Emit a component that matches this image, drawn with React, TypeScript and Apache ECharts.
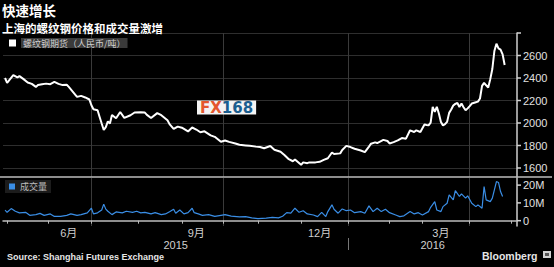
import React, { useEffect, useRef } from 'react';
import * as echarts from 'echarts';

const startDay = '2015-04-29';
const endDay = '2016-05-06';
const holidays = [
  '2015-05-01', '2015-06-22', '2015-09-03', '2015-09-04',
  '2015-10-01', '2015-10-02', '2015-10-05', '2015-10-06', '2015-10-07',
  '2016-01-01', '2016-02-08', '2016-02-09', '2016-02-10', '2016-02-11', '2016-02-12',
  '2016-04-04', '2016-05-02',
];

const priceDates = [
  '2015-04-30', '2015-05-04', '2015-05-07', '2015-05-11', '2015-05-12', '2015-05-14', '2015-05-18', '2015-05-20',
  '2015-05-22', '2015-05-25', '2015-05-27', '2015-05-29', '2015-06-02', '2015-06-04', '2015-06-08', '2015-06-10',
  '2015-06-12', '2015-06-15', '2015-06-17', '2015-06-19', '2015-06-24', '2015-06-26', '2015-06-30', '2015-07-01',
  '2015-07-02', '2015-07-06', '2015-07-07', '2015-07-08', '2015-07-09', '2015-07-10', '2015-07-13', '2015-07-14',
  '2015-07-15', '2015-07-17', '2015-07-21', '2015-07-23', '2015-07-28', '2015-07-30', '2015-08-04', '2015-08-06',
  '2015-08-07', '2015-08-11', '2015-08-14', '2015-08-18', '2015-08-21', '2015-08-24', '2015-08-26', '2015-08-28',
  '2015-09-01', '2015-09-08', '2015-09-10', '2015-09-14', '2015-09-16', '2015-09-18', '2015-09-23', '2015-09-25',
  '2015-09-30', '2015-10-09', '2015-10-13', '2015-10-16', '2015-10-20', '2015-10-23', '2015-10-27', '2015-10-30',
  '2015-11-03', '2015-11-05', '2015-11-10', '2015-11-12', '2015-11-17', '2015-11-19', '2015-11-23', '2015-11-25',
  '2015-11-26', '2015-12-01', '2015-12-02', '2015-12-04', '2015-12-07', '2015-12-10', '2015-12-14', '2015-12-16',
  '2015-12-18', '2015-12-22', '2015-12-23', '2015-12-28', '2015-12-29', '2015-12-31', '2016-01-05', '2016-01-07',
  '2016-01-12', '2016-01-14', '2016-01-18', '2016-01-19', '2016-01-21', '2016-01-22', '2016-01-27', '2016-01-29',
  '2016-02-01', '2016-02-03', '2016-02-05', '2016-02-16', '2016-02-18', '2016-02-22', '2016-02-24', '2016-02-25',
  '2016-02-29', '2016-03-02', '2016-03-03', '2016-03-04', '2016-03-07', '2016-03-08', '2016-03-09', '2016-03-10',
  '2016-03-11', '2016-03-14', '2016-03-15', '2016-03-16', '2016-03-17', '2016-03-18', '2016-03-21', '2016-03-22',
  '2016-03-23', '2016-03-24', '2016-03-25', '2016-03-28', '2016-03-29', '2016-03-30', '2016-03-31', '2016-04-01',
  '2016-04-05', '2016-04-07', '2016-04-08', '2016-04-11', '2016-04-12', '2016-04-13', '2016-04-14', '2016-04-15',
  '2016-04-18', '2016-04-19', '2016-04-20', '2016-04-21', '2016-04-22', '2016-04-25', '2016-04-26', '2016-04-27',
];
const priceValues = [
  2400, 2357, 2426, 2405, 2417, 2390, 2360, 2348,
  2321, 2337, 2344, 2350, 2345, 2366, 2348, 2337,
  2340, 2321, 2277, 2232, 2241, 2227, 2209, 2158,
  2122, 2113, 2054, 1995, 1938, 1964, 2015, 1995,
  2072, 2042, 2098, 2045, 2069, 2093, 2095, 2093,
  2072, 2045, 2088, 2069, 2024, 1990, 1947, 1968,
  1958, 1925, 1960, 1942, 1918, 1926, 1890, 1877,
  1833, 1845, 1832, 1818, 1806, 1801, 1797, 1790,
  1786, 1775, 1795, 1762, 1745, 1714, 1678, 1660,
  1675, 1628, 1650, 1643, 1650, 1650, 1655, 1672,
  1687, 1738, 1724, 1730, 1760, 1797, 1786, 1771,
  1756, 1741, 1790, 1816, 1828, 1822, 1850, 1840,
  1818, 1830, 1845, 1866, 1861, 1935, 1920, 1935,
  1920, 1986, 1982, 1979, 2003, 2143, 2098, 2143,
  2084, 2009, 1979, 1990, 2010, 2090, 2120, 2155,
  2170, 2178, 2143, 2173, 2140, 2113, 2130, 2150,
  2173, 2185, 2190, 2218, 2330, 2357, 2335, 2316,
  2390, 2480, 2640, 2705, 2664, 2652, 2610, 2515,
];

// trading volume, millions of lots
const volumeDates = [
  '2015-04-30', '2015-05-04', '2015-05-06', '2015-05-08', '2015-05-12', '2015-05-15', '2015-05-19', '2015-05-22',
  '2015-05-26', '2015-05-28', '2015-06-02', '2015-06-04', '2015-06-09', '2015-06-12', '2015-06-16', '2015-06-19',
  '2015-06-24', '2015-06-29', '2015-07-01', '2015-07-02', '2015-07-06', '2015-07-08', '2015-07-09', '2015-07-10',
  '2015-07-13', '2015-07-15', '2015-07-17', '2015-07-22', '2015-07-24', '2015-07-29', '2015-07-31', '2015-08-04',
  '2015-08-06', '2015-08-11', '2015-08-13', '2015-08-18', '2015-08-20', '2015-08-24', '2015-08-26', '2015-08-27',
  '2015-08-31', '2015-09-02', '2015-09-08', '2015-09-10', '2015-09-11', '2015-09-15', '2015-09-17', '2015-09-22',
  '2015-09-25', '2015-09-30', '2015-10-09', '2015-10-14', '2015-10-20', '2015-10-23', '2015-10-28', '2015-11-02',
  '2015-11-06', '2015-11-11', '2015-11-16', '2015-11-18', '2015-11-20', '2015-11-24', '2015-11-26', '2015-11-30',
  '2015-12-02', '2015-12-04', '2015-12-09', '2015-12-11', '2015-12-15', '2015-12-17', '2015-12-18', '2015-12-22',
  '2015-12-23', '2015-12-25', '2015-12-29', '2015-12-31', '2016-01-05', '2016-01-07', '2016-01-12', '2016-01-14',
  '2016-01-18', '2016-01-20', '2016-01-22', '2016-01-26', '2016-01-28', '2016-02-01', '2016-02-04', '2016-02-15',
  '2016-02-17', '2016-02-22', '2016-02-24', '2016-02-26', '2016-03-01', '2016-03-04', '2016-03-07', '2016-03-09',
  '2016-03-10', '2016-03-14', '2016-03-15', '2016-03-17', '2016-03-18', '2016-03-22', '2016-03-23', '2016-03-25',
  '2016-03-28', '2016-03-30', '2016-03-31', '2016-04-05', '2016-04-07', '2016-04-08', '2016-04-12', '2016-04-13',
  '2016-04-14', '2016-04-18', '2016-04-19', '2016-04-21', '2016-04-22', '2016-04-25', '2016-04-26',
];
const volumeValues = [
  5.9, 4.7, 6.8, 5.3, 4.4, 4.7, 3.0, 3.4,
  4.1, 3.0, 3.8, 2.4, 2.4, 3.0, 3.8, 3.0,
  3.4, 4.4, 7.0, 3.8, 4.4, 6.0, 9.3, 6.5,
  5.3, 3.4, 4.9, 4.4, 5.3, 4.7, 5.3, 4.4,
  4.7, 3.8, 4.5, 3.4, 3.8, 5.0, 6.4, 4.2,
  6.0, 3.8, 4.5, 7.0, 4.5, 3.8, 3.0, 3.4,
  2.4, 3.0, 3.4, 2.6, 2.1, 2.3, 1.6, 1.2,
  1.4, 1.9, 1.6, 2.5, 4.5, 4.2, 7.0, 4.7,
  5.6, 3.8, 3.2, 2.3, 4.7, 2.3, 5.1, 8.9,
  6.4, 4.2, 6.6, 5.6, 6.0, 4.5, 5.1, 4.2,
  8.3, 5.1, 7.0, 5.1, 6.4, 4.5, 3.2, 2.3,
  2.7, 5.1, 3.8, 4.5, 3.2, 5.1, 7.5, 10.7,
  6.0, 5.1, 7.9, 9.8, 14.5, 11.7, 16.9, 13.6,
  15.1, 12.7, 14.0, 9.8, 7.9, 8.9, 7.0, 19.2,
  11.7, 10.7, 12.7, 22.0, 21.5, 16.4, 13.6,
];

const monthLabelDates = ['2015-06-15', '2015-09-14', '2015-12-14', '2016-03-14'];
const monthLabels = ['6月', '9月', '12月', '3月'];
const yearLabels = ['2015', '2016'];
const priceTicks = [1600, 1800, 2000, 2200, 2400, 2600];
const volumeTicks = [0, 10, 20];
const volumeTickLabels = ['0', '10M', '20M'];

const FONT = "'Liberation Sans', 'Noto Sans CJK SC', sans-serif";
const CJK = "'Noto Sans CJK SC', sans-serif";

function tradingDays(): string[] {
  const out: string[] = [];
  const hol = new Set(holidays);
  const [sy, sm, sd] = startDay.split('-').map(Number);
  const [ey, em, ed] = endDay.split('-').map(Number);
  let t = Date.UTC(sy, sm - 1, sd);
  const end = Date.UTC(ey, em - 1, ed);
  while (t <= end) {
    const d = new Date(t);
    const wd = d.getUTCDay();
    const s = d.toISOString().slice(0, 10);
    if (wd !== 0 && wd !== 6 && !hol.has(s)) out.push(s);
    t += 86400000;
  }
  return out;
}

export default function App() {
  const ref = useRef<HTMLDivElement>(null);
  useEffect(() => {
    document.body.style.margin = '0';
    document.body.style.background = '#000';
    if (!ref.current) return;
    const chart = echarts.init(ref.current, undefined, { renderer: 'svg' });

    const days = tradingDays();
    const monthStart = new Set<number>();
    const quarterStart = new Set<number>();
    const yearStart = new Set<number>();
    days.forEach((d, i) => {
      if (i > 0 && d.slice(5, 7) !== days[i - 1].slice(5, 7)) {
        monthStart.add(i);
        const m = Number(d.slice(5, 7));
        if (m % 3 === 1) quarterStart.add(i);
        if (m === 1) yearStart.add(i);
      }
    });
    const monthLabelMap = new Map<number, string>();
    monthLabelDates.forEach((d, k) => monthLabelMap.set(days.indexOf(d), monthLabels[k]));
    const yearLabelMap = new Map<number, string>();
    yearLabels.forEach((y) => {
      const idx = days.map((d, i) => (d.startsWith(y) ? i : -1)).filter((i) => i >= 0);
      yearLabelMap.set(Math.round((idx[0] + idx[idx.length - 1]) / 2), y);
    });

    const priceSplitColors = ['rgba(0,0,0,0)', 'rgba(0,0,0,0)', '#2e2e2e', 'rgba(0,0,0,0)', 'rgba(0,0,0,0)'];
    const richTick = {
      t: { width: 4, height: 1.5, backgroundColor: '#d0d0d0' },
      v: { color: '#e0e0e0', fontSize: 11, fontFamily: FONT, padding: [0, 0, 0, 2] },
    };
    const qSplit = {
      show: true,
      interval: (i: number) => quarterStart.has(i),
      lineStyle: { color: '#3a3a3a', width: 1 },
    };

    chart.setOption({
      animation: false,
      backgroundColor: '#000',
      textStyle: { fontFamily: FONT },
      title: [
        {
          text: '快速增长',
          left: 2,
          top: 2.8,
          padding: 0,
          textStyle: { color: '#fff', fontSize: 13.5, lineHeight: 14, fontFamily: CJK, fontWeight: 'bold' },
        },
        {
          text: '上海的螺纹钢价格和成交量激增',
          left: 2,
          top: 22,
          padding: 0,
          textStyle: { color: '#fff', fontSize: 11.5, lineHeight: 12, fontFamily: CJK, fontWeight: 'bold' },
        },
      ],
      legend: [
        {
          data: ['螺纹钢期货（人民币/吨）'],
          left: 9,
          top: 38,
          padding: 0,
          icon: 'rect',
          itemWidth: 7,
          itemHeight: 7,
          selectedMode: false,
          textStyle: { color: '#cfcfcf', fontSize: 9, lineHeight: 10, fontFamily: CJK, backgroundColor: '#3a3a3a', padding: [0, 2, 0, 2] },
        },
        {
          data: ['成交量'],
          left: 5,
          top: 180,
          padding: [2, 4, 2, 4],
          backgroundColor: '#1c1c1c',
          icon: 'rect',
          itemWidth: 6,
          itemHeight: 6,
          selectedMode: false,
          textStyle: { color: '#bdbdbd', fontSize: 9, fontFamily: CJK },
        },
      ],
      grid: [
        { left: 3, right: 37, top: 33, height: 144 },
        { left: 3, right: 37, top: 178, height: 48 },
      ],
      xAxis: [
        {
          type: 'category', gridIndex: 0, data: days, boundaryGap: false,
          axisLine: { show: false }, axisTick: { show: false }, axisLabel: { show: false },
          splitLine: qSplit,
        },
        {
          type: 'category', gridIndex: 1, data: days, boundaryGap: false,
          axisLine: { show: true, lineStyle: { color: '#bdbdbd', width: 1.5 } },
          axisTick: { show: true, interval: (i: number) => monthStart.has(i), length: 3, lineStyle: { color: '#bdbdbd' } },
          axisLabel: {
            show: true,
            interval: (i: number) => monthLabelMap.has(i),
            formatter: (_v: string, i: number) => monthLabelMap.get(i) || '',
            color: '#cfcfcf', fontSize: 11, margin: 1,
          },
          splitLine: qSplit,
        },
        {
          type: 'category', gridIndex: 1, data: days, boundaryGap: false, position: 'bottom', offset: 12,
          axisLine: { show: false },
          axisTick: { show: true, interval: (i: number) => yearStart.has(i), length: 12, lineStyle: { color: '#777' } },
          axisLabel: {
            show: true,
            interval: (i: number) => yearLabelMap.has(i),
            formatter: (_v: string, i: number) => yearLabelMap.get(i) || '',
            color: '#cfcfcf', fontSize: 11, margin: 1,
          },
          splitLine: { show: false },
        },
      ],
      yAxis: [
        {
          type: 'value', gridIndex: 0, position: 'right', min: 1520, max: 2800, interval: 40,
          axisLine: { show: true, lineStyle: { color: '#cfcfcf', width: 1.5 } },
          axisTick: { show: false },
          splitLine: { show: true, lineStyle: { color: priceSplitColors, width: 1 } },
          axisLabel: {
            margin: 0,
            formatter: (v: number) => (priceTicks.includes(v) ? `{t| }{v|${v}}` : v === 2800 ? '{t| }' : ''),
            rich: richTick,
          },
        },
        {
          type: 'value', gridIndex: 1, position: 'right', min: -3, max: 24, interval: 1,
          axisLine: { show: true, lineStyle: { color: '#cfcfcf', width: 1.5 } },
          axisTick: { show: false },
          splitLine: { show: false },
          axisLabel: {
            margin: 0,
            formatter: (v: number) => {
              const k = volumeTicks.indexOf(v);
              return k >= 0 ? `{t| }{v|${volumeTickLabels[k]}}` : '';
            },
            rich: richTick,
          },
        },
      ],
      series: [
        {
          name: '螺纹钢期货（人民币/吨）',
          type: 'line', xAxisIndex: 0, yAxisIndex: 0,
          data: priceDates.map((d, i) => [d, priceValues[i]]),
          symbol: 'none', color: '#ffffff',
          lineStyle: { color: '#ffffff', width: 2 },
          z: 5,
        },
        {
          name: '成交量',
          type: 'line', xAxisIndex: 1, yAxisIndex: 1,
          data: volumeDates.map((d, i) => [d, volumeValues[i]]),
          symbol: 'none', color: '#3a8ee6',
          lineStyle: { color: '#3a8ee6', width: 1.2 },
          z: 5,
        },
      ],
      graphic: [
        { type: 'line', shape: { x1: 0, y1: 177, x2: 552, y2: 177 }, style: { stroke: '#bdbdbd', lineWidth: 1.5 }, z: 10 },
        {
          type: 'text', left: 197, top: 100, z: 20,
          style: {
            text: '{a|FX}{b|168}',
            backgroundColor: '#f4f4f4',
            padding: [0, 3, 0, 3],
            rich: {
              a: { fill: '#e4572e', fontSize: 15, fontWeight: 'bold', fontFamily: "'DejaVu Sans', sans-serif", lineHeight: 14 },
              b: { fill: '#1b5e8f', fontSize: 15, fontWeight: 'bold', fontFamily: "'DejaVu Sans', sans-serif", lineHeight: 14 },
            },
          },
        },
        {
          type: 'text', left: 7, top: 252,
          style: { text: 'Source: Shanghai Futures Exchange', fill: '#e6e6e6', font: "bold 9px 'Liberation Sans', sans-serif" },
        },
        {
          type: 'text', left: 482, top: 250,
          style: { text: 'Bloomberg', fill: '#e6e6e6', font: "bold 10.5px 'Liberation Sans', sans-serif" },
        },
        { type: 'rect', shape: { x: 543, y: 251, width: 8, height: 7 }, style: { fill: '#d0d0d0' } },
        { type: 'rect', shape: { x: 545, y: 253, width: 4, height: 3 }, style: { fill: '#555' } },
      ],
    });
    return () => chart.dispose();
  }, []);
  return <div ref={ref} style={{ position: 'fixed', left: 0, top: 0, width: 554, height: 267, background: '#000' }} />;
}
